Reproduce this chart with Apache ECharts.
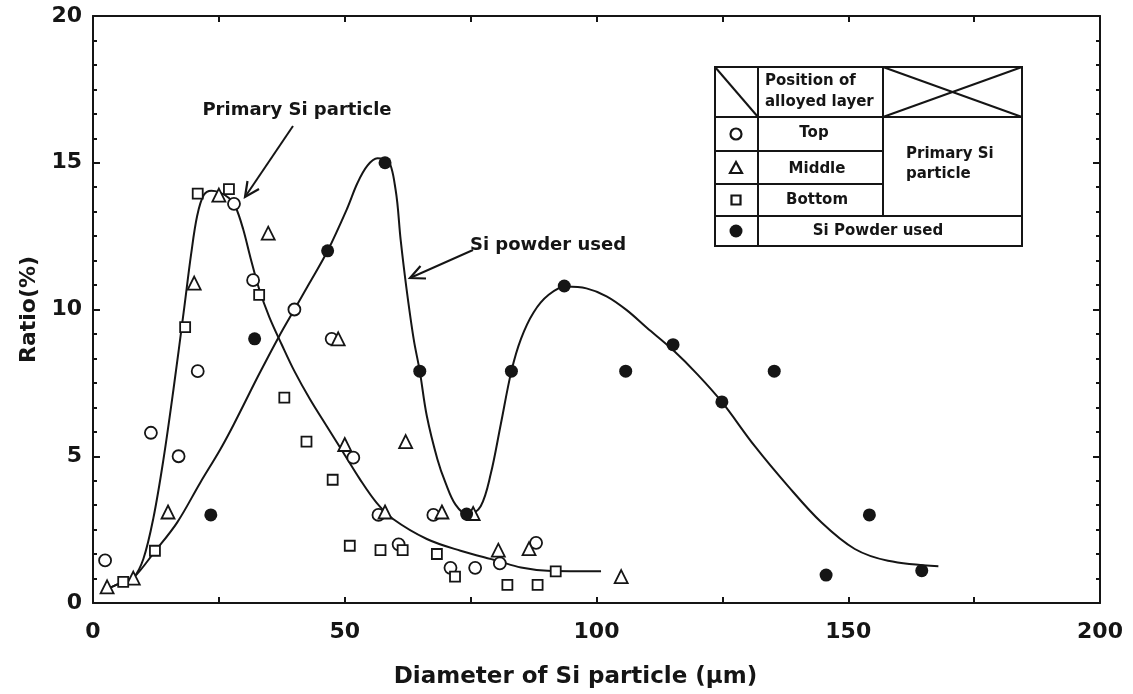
<!DOCTYPE html>
<html>
<head>
<meta charset="utf-8">
<script src="https://cdn.jsdelivr.net/npm/echarts@6/dist/echarts.min.js"></script>
<style>
html,body{margin:0;padding:0;background:#fff;}
#chart{width:1133px;height:694px;}
</style>
</head>
<body>
<div id="chart"></div>
<script>
// ---- data ----
var xTicks = [0, 50, 100, 150, 200];
var yTicks = [0, 5, 10, 15, 20];

// Primary Si particle, position of alloyed layer
var topPts = [[2.4,1.45],[11.5,5.8],[17,5.0],[20.8,7.9],[28,13.6],[31.8,11.0],[40,10.0],[47.4,9.0],[51.7,4.95],[56.7,3.0],[60.7,2.0],[67.6,3.0],[71,1.2],[75.9,1.2],[80.8,1.35],[88,2.05]];
var middlePts = [[2.8,0.55],[8,0.85],[14.9,3.1],[20.1,10.9],[25,13.9],[34.8,12.6],[48.7,9.0],[50.0,5.4],[58,3.1],[62.1,5.5],[69.3,3.1],[75.5,3.05],[80.5,1.8],[86.6,1.85],[104.9,0.9]];
var bottomPts = [[6,0.72],[12.3,1.78],[18.3,9.4],[20.8,13.95],[27,14.1],[33,10.5],[38,7.0],[42.4,5.5],[47.6,4.2],[51,1.95],[57.1,1.8],[61.5,1.8],[68.3,1.67],[71.9,0.9],[82.3,0.62],[88.3,0.62],[91.9,1.08]];
// Si powder used
var powderPts = [[23.4,3.0],[32.1,9.0],[46.6,12.0],[58,15.0],[64.9,7.9],[74.2,3.03],[83.1,7.9],[93.6,10.8],[105.8,7.9],[115.2,8.8],[124.9,6.85],[135.3,7.9],[145.6,0.95],[154.2,3.0],[164.6,1.1]];

// fitted curves
var primaryCurve = [[2.5,0.45],[6,0.72],[8,0.85],[10,1.5],[12,2.9],[14,4.9],[16,7.3],[18,9.9],[19.5,11.9],[20.7,13.2],[22,13.9],[23.5,14.05],[25,14.0],[27,13.8],[28.3,13.5],[29.8,12.75],[31.3,11.75],[33,10.7],[35,9.75],[37.5,8.8],[40,7.9],[43.1,6.94],[46.4,6.03],[49.7,5.13],[53,4.22],[56.3,3.42],[59.6,2.86],[66.3,2.18],[73,1.78],[80.3,1.44],[85,1.21],[90.3,1.1],[100.9,1.08]];
var powderCurve = [[2.5,0.45],[6,0.72],[8,0.85],[12.3,1.76],[16.7,2.74],[21.3,4.1],[25.3,5.24],[28,6.1],[33,7.8],[37,9.1],[40,10.0],[43,10.9],[46.6,12.0],[50.5,13.45],[52.5,14.3],[54.5,14.9],[56.5,15.15],[58.5,15.1],[60.1,14.08],[61.1,12.38],[62.2,10.8],[63.7,8.98],[64.9,7.9],[66.3,6.37],[68.4,4.9],[70,4.1],[72,3.35],[74.5,3.0],[77,3.3],[79,4.4],[81,6.1],[83.1,7.9],[85,9.0],[87.5,9.9],[90.5,10.5],[94,10.78],[98,10.72],[102,10.45],[106,9.98],[110,9.38],[115.2,8.62],[120,7.8],[124.9,6.85],[131.4,5.35],[138,3.99],[144.7,2.74],[151.3,1.84],[157.9,1.44],[167.9,1.25]];

var FONT = 'DejaVu Sans';
var INK = '#151515';

var chart = echarts.init(document.getElementById('chart'), null, {renderer: 'canvas'});

function axisBase() {
  return {
    axisLine: {show: true, onZero: false, lineStyle: {color: INK, width: 2}},
    splitLine: {show: false}
  };
}

var xBottom = Object.assign(axisBase(), {
  type: 'value', position: 'bottom', min: xTicks[0], max: xTicks[xTicks.length-1], interval: 50,
  axisTick: {show: true, inside: true, length: 6, lineStyle: {color: INK, width: 2}},
  minorTick: {show: true, splitNumber: 2, length: 6, lineStyle: {color: INK, width: 2}},
  axisLabel: {color: INK, fontFamily: FONT, fontWeight: 'bold', fontSize: 22, margin: 18},
  name: 'Diameter of Si particle (\u03bcm)', nameLocation: 'middle', nameGap: 63,
  nameTextStyle: {color: INK, fontFamily: FONT, fontWeight: 'bold', fontSize: 23, padding: [0, 42, 0, 0]}
});
var xTop = Object.assign(axisBase(), {
  type: 'value', position: 'top', min: 0, max: 200, interval: 25,
  axisTick: {show: true, inside: true, length: 6, lineStyle: {color: INK, width: 2}},
  axisLabel: {show: false}
});
var yLeft = Object.assign(axisBase(), {
  type: 'value', position: 'left', min: yTicks[0], max: yTicks[yTicks.length-1], interval: 5,
  axisTick: {show: true, inside: true, length: 7, lineStyle: {color: INK, width: 2}},
  minorTick: {show: true, splitNumber: 6, length: 4, lineStyle: {color: INK, width: 2}},
  axisLabel: {color: INK, fontFamily: FONT, fontWeight: 'bold', fontSize: 22, margin: 11},
  name: 'Ratio(%)', nameLocation: 'middle', nameGap: 49,
  nameTextStyle: {color: INK, fontFamily: FONT, fontWeight: 'bold', fontSize: 22}
});
var yRight = Object.assign(axisBase(), {
  type: 'value', position: 'right', min: 0, max: 20, interval: 5,
  axisTick: {show: true, inside: true, length: 7, lineStyle: {color: INK, width: 2}},
  minorTick: {show: true, splitNumber: 6, length: 4, lineStyle: {color: INK, width: 2}},
  axisLabel: {show: false}
});

function scatter(name, data, symbol, size, filled) {
  return {
    name: name, type: 'scatter', data: data, symbol: symbol, symbolSize: size, z: 5,
    itemStyle: {color: filled ? INK : '#fff', borderColor: INK, borderWidth: filled ? 0 : 1.8, opacity: 1}
  };
}

var textStyle = function (size) {
  return {fontFamily: FONT, fontWeight: 'bold', fontSize: size, fill: INK};
};
function line(x1, y1, x2, y2, w) {
  return {type: 'line', shape: {x1: x1, y1: y1, x2: x2, y2: y2}, style: {stroke: INK, lineWidth: w || 2}, z: 100};
}
function txt(x, y, s, size, align) {
  var st = textStyle(size);
  st.text = s; st.x = x; st.y = y; st.align = align || 'left'; st.verticalAlign = 'middle';
  return {type: 'text', style: st, z: 101};
}

var graphics = [
  // annotation: Primary Si particle
  txt(297, 110, 'Primary Si particle', 18, 'center'),
  line(293, 126, 245, 197, 2),
  {type: 'polyline', shape: {points: [[259, 189], [245, 197], [247.5, 181]]}, style: {stroke: INK, lineWidth: 2.2, fill: null}, z: 100},
  // annotation: Si powder used
  txt(548, 245, 'Si powder used', 18, 'center'),
  line(473, 250, 410, 278, 2),
  {type: 'polyline', shape: {points: [[426, 278.5], [410, 278], [420.5, 266]]}, style: {stroke: INK, lineWidth: 2.2, fill: null}, z: 100},
  // legend table
  {type: 'rect', shape: {x: 715, y: 67, width: 307, height: 179}, style: {fill: '#fff', stroke: INK, lineWidth: 2}, z: 99},
  line(758, 67, 758, 246), line(883, 67, 883, 216),
  line(715, 117, 1022, 117), line(715, 151, 883, 151), line(715, 184, 883, 184), line(715, 216, 1022, 216),
  line(715, 67, 758, 117),
  line(883, 67, 1022, 117), line(883, 117, 1022, 67),
  txt(765, 81, 'Position of', 15), txt(765, 102, 'alloyed layer', 15),
  txt(814, 133, 'Top', 15, 'center'), txt(817, 169, 'Middle', 15, 'center'), txt(817, 200, 'Bottom', 15, 'center'),
  txt(906, 154, 'Primary Si', 15), txt(906, 174, 'particle', 15),
  txt(878, 231, 'Si Powder used', 15, 'center'),
  {type: 'circle', shape: {cx: 736, cy: 134, r: 5.5}, style: {fill: '#fff', stroke: INK, lineWidth: 2.2}, z: 101},
  {type: 'polygon', shape: {points: [[736, 162], [742, 173], [730, 173]]}, style: {fill: '#fff', stroke: INK, lineWidth: 2.2}, z: 101},
  {type: 'rect', shape: {x: 731.5, y: 195.5, width: 9, height: 9}, style: {fill: '#fff', stroke: INK, lineWidth: 2.2}, z: 101},
  {type: 'circle', shape: {cx: 736, cy: 231, r: 6.5}, style: {fill: INK}, z: 101}
];

chart.setOption({
  backgroundColor: '#fff',
  animation: false,
  grid: {left: 93, right: 33, top: 16, bottom: 90, containLabel: false},
  xAxis: [xBottom, xTop],
  yAxis: [yLeft, yRight],
  series: [
    {name: 'Primary Si particle curve', type: 'line', data: primaryCurve, smooth: 0.35, showSymbol: false, symbol: 'none',
      lineStyle: {color: INK, width: 2}, z: 3},
    {name: 'Si powder used curve', type: 'line', data: powderCurve, smooth: 0.35, showSymbol: false, symbol: 'none',
      lineStyle: {color: INK, width: 2}, z: 3},
    scatter('Top', topPts, 'circle', 12, false),
    scatter('Middle', middlePts, 'triangle', 13, false),
    scatter('Bottom', bottomPts, 'rect', 10, false),
    scatter('Si Powder used', powderPts, 'circle', 13, true)
  ],
  graphic: graphics
});
</script>
</body>
</html>
